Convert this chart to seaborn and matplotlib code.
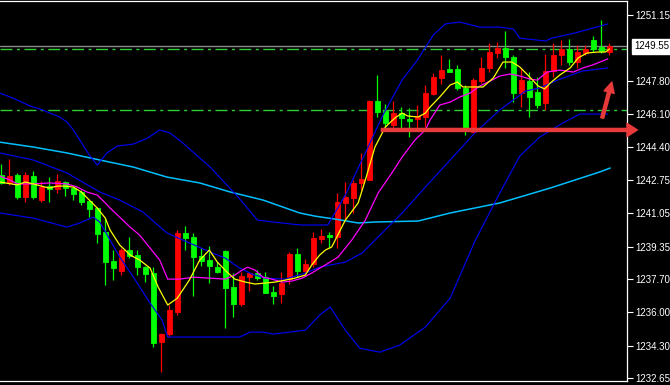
import numpy as np
import pandas as pd
import matplotlib
matplotlib.use("Agg")
import matplotlib.pyplot as plt
import matplotlib.transforms as mtransforms
from matplotlib import font_manager
import seaborn as sns

# --- candles ---
opens = [1243.00, 1242.59, 1243.00, 1241.87, 1242.94, 1241.72, 1242.43, 1242.28, 1242.64, 1242.33,
         1242.13, 1241.67, 1241.31, 1240.09, 1238.61, 1238.10, 1239.17, 1238.92, 1238.30, 1238.00,
         1234.48, 1234.89, 1236.01, 1240.04, 1239.83, 1238.87, 1238.66, 1238.30, 1239.12, 1237.28,
         1236.42, 1237.79, 1238.00, 1237.79, 1237.03, 1236.93, 1237.69, 1238.97, 1238.10, 1238.46,
         1239.73, 1239.93, 1239.83, 1241.57, 1241.82, 1242.59, 1242.74, 1246.77, 1246.25, 1245.54,
         1246.15, 1245.85, 1245.85, 1245.95, 1247.12, 1247.94, 1248.39, 1248.39, 1247.43, 1245.18,
         1247.78, 1248.45, 1249.21, 1249.46, 1249.00, 1247.17, 1247.78, 1247.22, 1246.66, 1248.29,
         1249.11, 1249.41, 1248.75, 1249.21, 1249.87, 1249.52, 1249.26]
highs = [1243.56, 1243.81, 1243.09, 1243.14, 1243.20, 1242.69, 1242.89, 1243.04, 1242.69, 1242.43,
         1242.23, 1241.72, 1241.36, 1240.80, 1239.17, 1239.27, 1239.83, 1239.17, 1238.36, 1238.30,
         1234.92, 1236.37, 1240.19, 1240.39, 1240.04, 1239.27, 1239.37, 1238.56, 1239.17, 1238.00,
         1238.05, 1238.05, 1238.15, 1238.05, 1237.34, 1238.05, 1239.07, 1239.27, 1238.71, 1240.09,
         1240.24, 1240.09, 1242.08, 1242.64, 1242.74, 1244.12, 1246.80, 1248.09, 1246.61, 1246.77,
         1246.46, 1246.41, 1246.56, 1247.58, 1248.19, 1249.11, 1248.90, 1248.60, 1247.58, 1247.94,
         1249.01, 1249.72, 1249.77, 1250.33, 1249.11, 1248.45, 1248.24, 1247.99, 1249.16, 1249.72,
         1249.87, 1249.92, 1249.62, 1249.62, 1250.08, 1250.89, 1249.72]
lows = [1242.54, 1242.48, 1241.77, 1241.62, 1241.77, 1241.62, 1241.62, 1242.08, 1241.92, 1241.72,
        1241.46, 1240.85, 1239.53, 1237.39, 1237.64, 1237.90, 1238.76, 1237.90, 1237.54, 1234.23,
        1232.95, 1234.74, 1235.86, 1239.17, 1236.83, 1238.36, 1237.49, 1238.00, 1235.20, 1235.76,
        1236.32, 1237.08, 1237.64, 1236.98, 1236.42, 1236.47, 1237.44, 1237.79, 1237.90, 1238.30,
        1239.53, 1239.27, 1239.27, 1240.70, 1241.06, 1242.23, 1242.74, 1245.95, 1245.34, 1245.29,
        1245.29, 1244.93, 1245.29, 1245.44, 1247.07, 1247.63, 1248.24, 1247.32, 1245.03, 1245.13,
        1247.68, 1248.24, 1248.95, 1248.45, 1246.71, 1246.46, 1245.95, 1246.41, 1246.31, 1247.99,
        1248.60, 1248.60, 1248.45, 1249.11, 1249.26, 1249.21, 1249.11]
closes = [1242.59, 1242.94, 1241.87, 1243.00, 1241.87, 1242.38, 1242.28, 1242.69, 1242.33, 1242.02,
          1241.62, 1241.26, 1239.99, 1238.56, 1238.25, 1239.17, 1238.86, 1238.30, 1237.95, 1234.43,
          1234.89, 1236.11, 1240.04, 1239.78, 1238.81, 1238.61, 1238.36, 1238.05, 1237.23, 1236.42,
          1237.85, 1238.00, 1237.74, 1236.98, 1236.83, 1237.49, 1238.97, 1238.10, 1238.46, 1239.78,
          1239.88, 1239.83, 1241.62, 1241.87, 1242.59, 1242.79, 1246.77, 1246.20, 1245.64, 1246.15,
          1245.90, 1245.74, 1246.00, 1247.17, 1247.99, 1248.34, 1248.24, 1247.43, 1245.29, 1247.83,
          1248.45, 1249.26, 1249.46, 1249.00, 1247.17, 1247.83, 1246.97, 1246.56, 1248.29, 1249.11,
          1249.41, 1248.75, 1249.26, 1249.41, 1249.41, 1249.31, 1249.55]

# --- indicator lines, read at bar positions ---
fast_x = [-0.2, 2.0, 3.0, 4.0, 5.0, 6.0, 7.0, 8.0, 9.0, 10.0, 11.0, 12.0, 13.0, 13.6, 14.8, 16.1,
          17.3, 18.6, 19.6, 20.8, 22.0, 23.5, 24.8, 26.0, 27.0, 28.2, 29.2, 30.5, 31.7, 33.0, 34.2,
          35.5, 36.7, 38.0, 38.8, 39.8, 40.5, 41.3, 43.0, 44.6, 45.5, 46.7, 48.0, 49.2, 50.1, 50.8,
          52.1, 53.0, 53.6, 54.8, 56.1, 57.0, 57.7, 59.0, 60.2, 61.5, 62.7, 63.8, 64.8, 65.8, 67.1,
          67.9, 68.6, 69.8, 71.1, 72.1, 73.2, 74.5, 75.5, 76.0]
fast_y = [1242.64, 1242.49, 1242.64, 1242.54, 1242.43, 1242.33, 1242.43, 1242.43, 1242.38, 1242.13,
          1241.72, 1241.31, 1240.80, 1240.19, 1239.43, 1238.92, 1238.66, 1238.25, 1237.29, 1236.37,
          1236.72, 1237.64, 1238.66, 1239.17, 1238.56, 1238.05, 1237.69, 1237.54, 1237.44, 1237.49,
          1237.54, 1237.64, 1237.74, 1237.90, 1238.41, 1238.92, 1239.17, 1239.33, 1240.70, 1241.57,
          1242.74, 1244.42, 1245.44, 1245.90, 1246.15, 1246.00, 1245.95, 1246.15, 1246.46, 1246.97,
          1247.58, 1247.73, 1247.48, 1247.48, 1247.48, 1247.94, 1248.75, 1248.75, 1248.50, 1248.09,
          1247.53, 1247.38, 1247.68, 1248.09, 1248.45, 1248.96, 1249.21, 1249.26, 1249.26, 1249.41]

slow_x = [-0.2, 1.1, 2.0, 4.0, 6.1, 8.2, 9.5, 10.7, 12.0, 13.0, 13.6, 14.8, 16.1, 17.3, 18.6, 19.8,
          20.8, 22.3, 24.0, 26.1, 28.0, 29.2, 30.1, 30.8, 31.7, 32.7, 33.8, 35.1, 36.3, 37.6, 38.8,
          39.8, 40.5, 42.1, 43.8, 45.5, 47.1, 48.8, 50.1, 51.7, 53.0, 53.6, 54.8, 56.1, 57.3, 58.6,
          59.8, 61.1, 62.3, 63.6, 64.8, 66.1, 67.0, 68.2, 69.8, 71.5, 72.7, 73.9, 75.8]
slow_y = [1242.94, 1242.74, 1242.54, 1242.54, 1242.59, 1242.54, 1242.38, 1242.13, 1241.97, 1241.57,
          1241.31, 1240.85, 1240.34, 1239.93, 1239.27, 1238.66, 1237.69, 1237.69, 1237.79, 1237.74,
          1237.69, 1237.90, 1238.15, 1238.30, 1238.15, 1237.79, 1237.69, 1237.54, 1237.59, 1237.74,
          1238.00, 1238.25, 1238.41, 1238.82, 1239.68, 1240.70, 1242.08, 1243.09, 1243.91, 1244.78,
          1245.29, 1245.80, 1246.56, 1246.71, 1246.97, 1247.17, 1247.53, 1247.78, 1248.04, 1248.14,
          1248.04, 1247.88, 1247.83, 1248.24, 1248.34, 1248.24, 1248.45, 1248.60, 1248.91]

long_x = [-0.2, 4.0, 8.2, 12.3, 16.5, 20.7, 24.8, 28.6, 32.7, 37.3, 39.2, 41.7, 44.6, 46.7, 52.1,
          56.1, 62.3, 68.6, 74.8, 76.1]
long_y = [1244.67, 1244.42, 1244.12, 1243.76, 1243.40, 1242.89, 1242.59, 1242.13, 1241.72, 1241.06,
          1240.90, 1240.75, 1240.55, 1240.60, 1240.65, 1241.06, 1241.57, 1242.33, 1243.15, 1243.35]

bb_up_x = [-0.2, 1.1, 2.3, 3.6, 4.8, 6.1, 7.3, 8.2, 9.0, 9.8, 11.0, 12.0, 13.2, 14.5, 16.5, 18.3,
           19.8, 21.1, 22.7, 26.1, 29.6, 32.0, 34.0, 37.3, 40.8, 43.0, 45.5, 47.7, 50.1, 52.0, 54.0,
           55.5, 57.3, 59.8, 62.3, 64.0, 64.8, 68.0, 68.8, 71.7, 75.8]
bb_up_y = [1247.17, 1246.97, 1246.76, 1246.51, 1246.36, 1246.15, 1245.95, 1245.70, 1245.29, 1244.78,
           1244.01, 1243.50, 1244.12, 1244.47, 1244.57, 1244.88, 1245.29, 1245.13, 1244.62, 1243.40,
           1241.87, 1240.70, 1240.60, 1240.45, 1240.45, 1241.97, 1244.12, 1246.05, 1247.84, 1248.85,
           1250.13, 1250.69, 1250.79, 1250.53, 1250.53, 1250.43, 1249.97, 1249.82, 1249.97, 1250.23,
           1250.69]

bb_mid_x = [-0.2, 4.0, 8.2, 12.3, 14.8, 17.7, 20.7, 22.7, 26.1, 28.0, 29.6, 31.3, 33.0, 35.5, 38.0,
            39.8, 43.0, 45.1, 47.6, 50.1, 53.0, 56.1, 59.2, 62.3, 65.5, 67.3, 69.6, 72.6, 75.8]
bb_mid_y = [1244.12, 1243.76, 1243.10, 1242.13, 1241.72, 1241.11, 1240.04, 1239.68, 1239.07, 1238.76,
            1238.30, 1237.95, 1237.74, 1237.69, 1238.00, 1238.30, 1238.56, 1239.02, 1240.04, 1241.06,
            1242.38, 1243.76, 1245.14, 1246.31, 1247.27, 1247.43, 1247.84, 1248.29, 1248.45]

bb_lo_x = [-0.2, 4.0, 8.2, 9.8, 11.5, 12.3, 13.6, 14.8, 16.5, 18.6, 20.1, 20.8, 29.8, 31.1, 32.7,
           34.0, 38.0, 39.8, 41.1, 43.0, 44.8, 47.3, 49.8, 53.0, 56.1, 59.2, 62.3, 64.8, 67.3, 70.2,
           72.3, 75.8]
bb_lo_y = [1241.06, 1240.80, 1240.34, 1240.55, 1240.85, 1240.60, 1239.68, 1238.82, 1237.80, 1236.47,
           1235.60, 1234.74, 1234.74, 1234.99, 1234.99, 1234.89, 1235.09, 1235.86, 1236.27, 1235.09,
           1234.17, 1233.97, 1234.33, 1235.25, 1236.72, 1239.63, 1242.08, 1243.96, 1244.93, 1245.65,
           1246.10, 1246.10]

# --- levels and axis labels ---
bid_price = 1249.55
resistance = 1249.42
support = 1246.31
arrow_level = 1245.29
price_ticks = [1251.15, 1247.80, 1246.10, 1244.40, 1242.75, 1241.05, 1239.35, 1237.70, 1236.00,
               1234.30, 1232.65]

sns.set_theme(style="dark", rc={"axes.facecolor": "black", "figure.facecolor": "black"})
installed = {f.name for f in font_manager.fontManager.ttflist}
if "Liberation Sans Narrow" in installed:
    plt.rcParams["font.family"] = ["Liberation Sans Narrow", "DejaVu Sans"]
    fsize = 8.0
else:
    plt.rcParams["font.family"] = ["Liberation Sans", "DejaVu Sans"]
    fsize = 7.0

bars = pd.DataFrame({"open": opens, "high": highs, "low": lows, "close": closes})
bars["idx"] = np.arange(len(bars))
bars["color"] = np.where(bars["close"] > bars["open"], "#ff0000", "#00ff00")

fig = plt.figure(figsize=(6.7, 3.85), dpi=100, facecolor="black")
ax = fig.add_axes([0, 4 / 385, 627 / 670, 380 / 385])
ax.set_facecolor("black")

# candles
ax.vlines(bars["idx"], bars["low"], bars["high"], colors=bars["color"], linewidth=0.9, zorder=2)
ax.bar(bars["idx"], bars["close"] - bars["open"], bottom=bars["open"], width=0.62,
       color=bars["color"], edgecolor=bars["color"], linewidth=0.6, zorder=3)

# level lines
ax.axhline(bid_price, color="#8a8a8a", linewidth=1.0, zorder=1)
for lvl in (resistance, support):
    ax.axhline(lvl, color="#32cd32", linewidth=1.0, dashes=(8.6, 3.2, 2.2, 3.2), zorder=1)

# indicators
for xs, ys, col, lw in [(long_x, long_y, "#00bfff", 1.1),
                        (bb_up_x, bb_up_y, "#0000f0", 0.85),
                        (bb_mid_x, bb_mid_y, "#0000f0", 0.85),
                        (bb_lo_x, bb_lo_y, "#0000f0", 0.85),
                        (slow_x, slow_y, "#ff00ff", 0.9),
                        (fast_x, fast_y, "#ffff00", 0.9)]:
    sns.lineplot(x=xs, y=ys, color=col, linewidth=lw, estimator=None, sort=False, ax=ax, zorder=4)

# hand-drawn red arrows
red = "#e83a3a"
ax.annotate("", xy=(79.5, arrow_level), xytext=(47.5, arrow_level), annotation_clip=False,
            arrowprops=dict(arrowstyle="simple,head_length=0.75,head_width=0.95,tail_width=0.22",
                            color=red, shrinkA=0, shrinkB=0, mutation_scale=10, clip_on=False),
            zorder=6)
ax.annotate("", xy=(76.3, 1247.73), xytext=(75.1, 1245.90), annotation_clip=False,
            arrowprops=dict(arrowstyle="simple,head_length=0.75,head_width=0.75,tail_width=0.22",
                            color=red, shrinkA=0, shrinkB=0, mutation_scale=10),
            zorder=6)

ax.set_xlim(-0.16, 78.2)
ax.set_ylim(1232.50, 1251.86)
ax.set_xticks([])
ax.yaxis.tick_right()
ax.set_yticks(price_ticks)
ax.set_yticklabels([f"{t:.2f}" for t in price_ticks])
ax.tick_params(axis="y", colors="white", length=4, width=0.8, pad=2, labelsize=fsize, right=True)
ax.set_xlabel("")
ax.set_ylabel("")
ax.grid(False)
for side in ("top", "right", "bottom"):
    ax.spines[side].set_color("white")
    ax.spines[side].set_linewidth(0.9)
ax.spines["left"].set_visible(False)

# current price tag
trans = mtransforms.blended_transform_factory(ax.transAxes, ax.transData)
ax.text(1.012, bid_price, f"{bid_price:.2f}", transform=trans, color="black", fontsize=fsize,
        va="center", ha="left", clip_on=False, zorder=7,
        bbox=dict(boxstyle="square,pad=0.25", facecolor="white", edgecolor="white"))

fig.savefig("out.png", dpi=100, facecolor="black")
